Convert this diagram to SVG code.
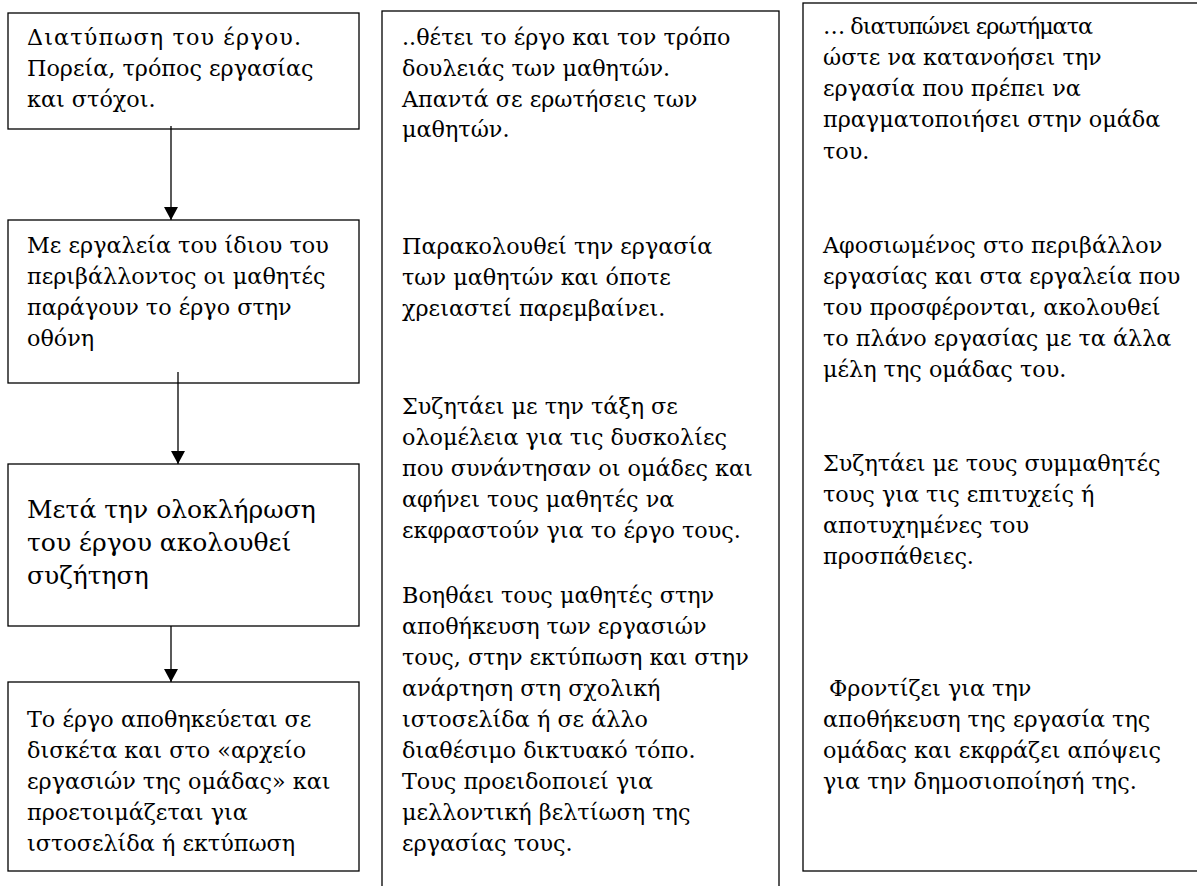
<svg xmlns="http://www.w3.org/2000/svg" width="1197" height="886" viewBox="0 0 1197 886">
<style>
.box{fill:#fff;stroke:#000;stroke-width:1.3}
.t{font-family:"DejaVu Serif","Liberation Serif",serif;font-size:22.3px;fill:#000}
.tl{font-family:"DejaVu Serif","Liberation Serif",serif;font-size:25px;fill:#000}
.c{stroke:#000;stroke-width:1.3;fill:none}
</style>
<defs>
<marker id="ah" markerWidth="16" markerHeight="14" refX="13" refY="7" orient="auto" markerUnits="userSpaceOnUse">
<path d="M0,0 L13,7 L0,14 Z" fill="#000"/>
</marker>
</defs>
<rect width="1197" height="886" fill="#fff"/>
<g id="step1">
<rect class="box" x="8" y="13" width="351" height="116"/>
<text class="t" x="27" y="45" textLength="274" lengthAdjust="spacing">Διατύπωση του έργου.</text>
<text class="t" x="27" y="76">Πορεία, τρόπος εργασίας</text>
<text class="t" x="27" y="107">και στόχοι.</text>
</g>
<g id="step2">
<rect class="box" x="8" y="220" width="351" height="163"/>
<text class="t" x="27" y="253">Με εργαλεία του ίδιου του</text>
<text class="t" x="27" y="284">περιβάλλοντος οι μαθητές</text>
<text class="t" x="27" y="315">παράγουν το έργο στην</text>
<text class="t" x="27" y="346">οθόνη</text>
</g>
<g id="step3">
<rect class="box" x="8" y="464" width="351" height="162"/>
<text class="tl" x="27" y="518">Μετά την ολοκλήρωση</text>
<text class="tl" x="27" y="551">του έργου ακολουθεί</text>
<text class="tl" x="27" y="584">συζήτηση</text>
</g>
<g id="step4">
<rect class="box" x="8" y="682" width="351" height="189"/>
<text class="t" x="27" y="727">Το έργο αποθηκεύεται σε</text>
<text class="t" x="27" y="758">δισκέτα και στο «αρχείο</text>
<text class="t" x="27" y="789">εργασιών της ομάδας» και</text>
<text class="t" x="27" y="820">προετοιμάζεται για</text>
<text class="t" x="27" y="851">ιστοσελίδα ή εκτύπωση</text>
</g>
<g id="teacher">
<rect class="box" x="382" y="11" width="397" height="900"/>
<text class="t" x="402" y="45">..θέτει το έργο και τον τρόπο</text>
<text class="t" x="402" y="76">δουλειάς των μαθητών.</text>
<text class="t" x="402" y="107">Απαντά σε ερωτήσεις των</text>
<text class="t" x="402" y="137">μαθητών.</text>
<text class="t" x="402" y="254">Παρακολουθεί την εργασία</text>
<text class="t" x="402" y="285">των μαθητών και όποτε</text>
<text class="t" x="402" y="316">χρειαστεί παρεμβαίνει.</text>
<text class="t" x="402" y="414">Συζητάει με την τάξη σε</text>
<text class="t" x="402" y="445">ολομέλεια για τις δυσκολίες</text>
<text class="t" x="402" y="476">που συνάντησαν οι ομάδες και</text>
<text class="t" x="402" y="507">αφήνει τους μαθητές να</text>
<text class="t" x="402" y="538">εκφραστούν για το έργο τους.</text>
<text class="t" x="402" y="603">Βοηθάει τους μαθητές στην</text>
<text class="t" x="402" y="634">αποθήκευση των εργασιών</text>
<text class="t" x="402" y="665">τους, στην εκτύπωση και στην</text>
<text class="t" x="402" y="696">ανάρτηση στη σχολική</text>
<text class="t" x="402" y="727">ιστοσελίδα ή σε άλλο</text>
<text class="t" x="402" y="758">διαθέσιμο δικτυακό τόπο.</text>
<text class="t" x="402" y="789">Τους προειδοποιεί για</text>
<text class="t" x="402" y="820">μελλοντική βελτίωση της</text>
<text class="t" x="402" y="851">εργασίας τους.</text>
</g>
<g id="student">
<rect class="box" x="803" y="3" width="420" height="868"/>
<text class="t" x="823" y="34" textLength="270" lengthAdjust="spacing">… διατυπώνει ερωτήματα</text>
<text class="t" x="823" y="65">ώστε να κατανοήσει την</text>
<text class="t" x="823" y="96">εργασία που πρέπει να</text>
<text class="t" x="823" y="127">πραγματοποιήσει στην ομάδα</text>
<text class="t" x="823" y="159">του.</text>
<text class="t" x="823" y="253">Αφοσιωμένος στο περιβάλλον</text>
<text class="t" x="823" y="284">εργασίας και στα εργαλεία που</text>
<text class="t" x="823" y="315">του προσφέρονται, ακολουθεί</text>
<text class="t" x="823" y="346">το πλάνο εργασίας με τα άλλα</text>
<text class="t" x="823" y="377">μέλη της ομάδας του.</text>
<text class="t" x="823" y="471">Συζητάει με τους συμμαθητές</text>
<text class="t" x="823" y="502">τους για τις επιτυχείς ή</text>
<text class="t" x="823" y="533">αποτυχημένες του</text>
<text class="t" x="823" y="564">προσπάθειες.</text>
<text class="t" x="829" y="696">Φροντίζει για την</text>
<text class="t" x="823" y="727">αποθήκευση της εργασία της</text>
<text class="t" x="823" y="758">ομάδας και εκφράζει απόψεις</text>
<text class="t" x="823" y="789">για την δημοσιοποίησή της.</text>
</g>
<g id="connectors">
<line class="c" x1="171" y1="126" x2="171" y2="220" marker-end="url(#ah)"/>
<line class="c" x1="178" y1="372" x2="178" y2="464" marker-end="url(#ah)"/>
<line class="c" x1="171" y1="626" x2="171" y2="682" marker-end="url(#ah)"/>
</g>
</svg>
